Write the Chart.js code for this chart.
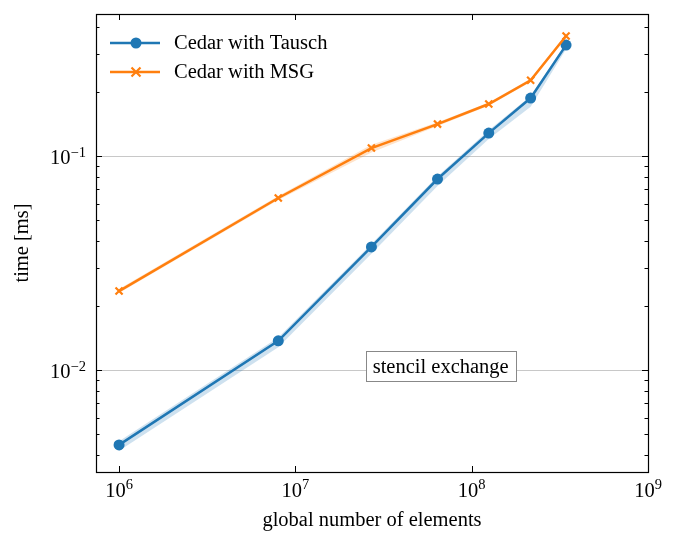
<!DOCTYPE html>
<html>
<head>
<meta charset="utf-8">
<script src="https://cdn.jsdelivr.net/npm/chart.js@4/dist/chart.umd.min.js"></script>
<style>
  html, body { margin: 0; padding: 0; background: #fff; }
  #wrap { width: 684px; height: 533px; }
</style>
</head>
<body>
<div id="wrap"><canvas id="timeChart"></canvas></div>
<script>
// ---- data ----
const elements = [1e6, 8e6, 2.7e7, 6.4e7, 1.25e8, 2.16e8, 3.43e8];

const tauschTime  = [0.00447, 0.0137, 0.0376, 0.0781, 0.128, 0.1866, 0.330];
const tauschLow   = [0.00420, 0.0128, 0.0350, 0.0725, 0.120, 0.170, 0.316];
const tauschHigh  = [0.00465, 0.0142, 0.0388, 0.0805, 0.132, 0.191, 0.336];

const msgTime     = [0.0234, 0.0637, 0.109, 0.141, 0.175, 0.226, 0.364];
const msgLow      = [0.0229, 0.0624, 0.104, 0.138, 0.172, 0.222, 0.357];
const msgHigh     = [0.0239, 0.0650, 0.113, 0.144, 0.178, 0.230, 0.370];

const xTickValues = [1e6, 1e7, 1e8, 1e9];
const xTickExp    = ['6', '7', '8', '9'];
const yMajorTicks = [0.01, 0.1];
const yMajorExp   = ['\u22122', '\u22121'];
const yMinorTicks = [0.004, 0.005, 0.006, 0.007, 0.008, 0.009,
                     0.02, 0.03, 0.04, 0.05, 0.06, 0.07, 0.08, 0.09,
                     0.2, 0.3, 0.4];

const BLUE = '#1f77b4';
const ORANGE = '#ff7f0e';
const FONT = '"Liberation Serif", "Times New Roman", serif';

function pts(vals) {
    return elements.map((x, i) => ({ x: x, y: vals[i] }));
}

// ---- frame, inward ticks, tick labels, legend and text box ----
const decor = {
    id: 'decor',
    afterDraw(chart) {
        const ctx = chart.ctx;
        const a = chart.chartArea;
        const xs = chart.scales.x, ys = chart.scales.y;
        ctx.save();
        ctx.strokeStyle = '#000';
        ctx.lineWidth = 1;

        // x ticks (top and bottom, pointing in)
        xTickValues.forEach(v => {
            const px = Math.round(xs.getPixelForValue(v)) + 0.5;
            ctx.beginPath();
            ctx.moveTo(px, a.bottom); ctx.lineTo(px, a.bottom - 6);
            ctx.moveTo(px, a.top); ctx.lineTo(px, a.top + 6);
            ctx.stroke();
        });
        // y ticks (left and right)
        const yTick = (v, len) => {
            const py = Math.round(ys.getPixelForValue(v)) + 0.5;
            ctx.beginPath();
            ctx.moveTo(a.left, py); ctx.lineTo(a.left + len, py);
            ctx.moveTo(a.right, py); ctx.lineTo(a.right - len, py);
            ctx.stroke();
        };
        yMajorTicks.forEach(v => yTick(v, 6));
        yMinorTicks.forEach(v => yTick(v, 3.5));

        // frame
        ctx.lineWidth = 1.2;
        ctx.strokeRect(Math.round(a.left) + 0.5, Math.round(a.top) + 0.5,
                       Math.round(a.right - a.left), Math.round(a.bottom - a.top));

        // tick labels as 10^n
        ctx.fillStyle = '#000';
        ctx.textBaseline = 'alphabetic';
        const big = '20.5px ' + FONT, small = '14.5px ' + FONT;
        xTickValues.forEach((v, i) => {
            const px = xs.getPixelForValue(v);
            ctx.font = big; const w1 = ctx.measureText('10').width;
            ctx.font = small; const w2 = ctx.measureText(xTickExp[i]).width;
            const x0 = px - (w1 + w2) / 2;
            ctx.font = big; ctx.textAlign = 'left';
            ctx.fillText('10', x0, a.bottom + 25);
            ctx.font = small;
            ctx.fillText(xTickExp[i], x0 + w1, a.bottom + 17);
        });
        yMajorTicks.forEach((v, i) => {
            const py = ys.getPixelForValue(v);
            ctx.font = small; const w2 = ctx.measureText(yMajorExp[i]).width;
            const right = a.left - 10;
            ctx.textAlign = 'right';
            ctx.fillText(yMajorExp[i], right, py + 1);
            ctx.font = big;
            ctx.fillText('10', right - w2, py + 8);
        });

        // legend
        const rows = [
            { label: chart.data.datasets[0].label, color: BLUE, style: 'circle', y: a.top + 29 },
            { label: chart.data.datasets[3].label, color: ORANGE, style: 'cross', y: a.top + 58 }
        ];
        rows.forEach(r => {
            ctx.strokeStyle = r.color; ctx.fillStyle = r.color;
            ctx.lineWidth = 2.5;
            ctx.beginPath();
            ctx.moveTo(a.left + 14, r.y); ctx.lineTo(a.left + 64, r.y);
            ctx.stroke();
            const mx = a.left + 40;
            if (r.style === 'circle') {
                ctx.beginPath(); ctx.arc(mx, r.y, 5.5, 0, Math.PI * 2); ctx.fill();
            } else {
                ctx.lineWidth = 2.2;
                ctx.beginPath();
                ctx.moveTo(mx - 4.5, r.y - 4.5); ctx.lineTo(mx + 4.5, r.y + 4.5);
                ctx.moveTo(mx - 4.5, r.y + 4.5); ctx.lineTo(mx + 4.5, r.y - 4.5);
                ctx.stroke();
            }
            ctx.fillStyle = '#000';
            ctx.font = big; ctx.textAlign = 'left'; ctx.textBaseline = 'middle';
            ctx.fillText(r.label, a.left + 78, r.y + 1);
        });

        // text box
        const boxText = 'stencil exchange';
        const cx = xs.getPixelForValue(6.67e7);
        const cy = ys.getPixelForValue(0.0104);
        ctx.font = big;
        const tw = ctx.measureText(boxText).width;
        const bw = Math.round(tw + 14);
        const bx = Math.round(cx - bw / 2) + 0.5, by = Math.round(cy - 15) + 0.5;
        ctx.fillStyle = '#fff';
        ctx.fillRect(bx, by, bw, 30);
        ctx.strokeStyle = '#888'; ctx.lineWidth = 1;
        ctx.strokeRect(bx, by, bw, 30);
        ctx.fillStyle = '#000'; ctx.textAlign = 'center'; ctx.textBaseline = 'middle';
        ctx.fillText(boxText, cx, cy + 1);
        ctx.restore();
    }
};

new Chart(document.getElementById('timeChart'), {
    type: 'line',
    data: {
        datasets: [
            { label: 'Cedar with Tausch', data: pts(tauschTime), borderColor: BLUE, backgroundColor: BLUE,
              borderWidth: 2.5, pointRadius: 5.5, pointStyle: 'circle', pointBorderWidth: 0, order: 1 },
            { label: 'tausch low', data: pts(tauschLow), borderWidth: 0, pointRadius: 0, fill: false, order: 3 },
            { label: 'tausch high', data: pts(tauschHigh), borderWidth: 0, pointRadius: 0,
              fill: '-1', backgroundColor: 'rgba(31,119,180,0.22)', order: 3 },
            { label: 'Cedar with MSG', data: pts(msgTime), borderColor: ORANGE, backgroundColor: ORANGE,
              borderWidth: 2.5, pointRadius: 5, pointStyle: 'crossRot', pointBorderWidth: 2.2, order: 0 },
            { label: 'msg low', data: pts(msgLow), borderWidth: 0, pointRadius: 0, fill: false, order: 2 },
            { label: 'msg high', data: pts(msgHigh), borderWidth: 0, pointRadius: 0,
              fill: '-1', backgroundColor: 'rgba(255,127,14,0.22)', order: 2 }
        ]
    },
    options: {
        responsive: true,
        maintainAspectRatio: false,
        animation: false,
        layout: { padding: { left: 0, right: 36, top: 14, bottom: 0 } },
        plugins: { legend: { display: false }, tooltip: { enabled: false } },
        scales: {
            x: {
                type: 'logarithmic',
                min: 7.4e5, max: 1e9,
                afterBuildTicks: s => { s.ticks = xTickValues.map(v => ({ value: v })); },
                afterFit: s => { s.height = 61; },
                ticks: { display: false },
                grid: { display: false },
                border: { display: false },
                title: { display: true, text: 'global number of elements', color: '#000',
                         font: { family: FONT, size: 20.5 }, padding: { top: 0, bottom: 0 } }
            },
            y: {
                type: 'logarithmic',
                min: 0.00334, max: 0.461,
                afterBuildTicks: s => { s.ticks = yMajorTicks.map(v => ({ value: v })); },
                afterFit: s => { s.width = 96; },
                ticks: { display: false },
                grid: { color: '#c8c8c8', lineWidth: 1, drawTicks: false },
                border: { display: false },
                title: { display: true, text: 'time [ms]', color: '#000',
                         font: { family: FONT, size: 20.5 }, padding: { top: 10, bottom: 0 } }
            }
        }
    },
    plugins: [decor]
});
</script>
</body>
</html>
